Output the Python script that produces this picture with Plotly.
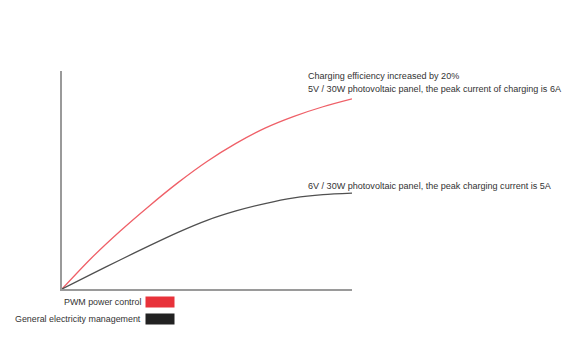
import plotly.graph_objects as go

# Data (arbitrary units)
x_vals = [0, 1, 2, 3, 4, 5, 6, 7, 8, 9, 10]
pwm_values = [0, 1.40, 2.65, 3.80, 4.88, 5.85, 6.68, 7.38, 7.92, 8.36, 8.72]
general_values = [0, 0.67, 1.33, 1.98, 2.60, 3.15, 3.58, 3.92, 4.18, 4.33, 4.40]

series_names = ["PWM power control", "General electricity management"]
series_colors = ["#e8323a", "#222222"]
line_colors = ["#ef6068", "#505050"]

note_top_1 = "Charging efficiency increased by 20%"
note_top_2 = "5V / 30W photovoltaic panel, the peak current of charging is 6A"
note_mid = "6V / 30W photovoltaic panel, the peak charging current is 5A"

FONT = "Liberation Sans, Arial, sans-serif"
TXT = "#333333"

fig = go.Figure()
for vals, name, col in zip([pwm_values, general_values], series_names, line_colors):
    fig.add_trace(go.Scatter(
        x=x_vals, y=vals, mode="lines", name=name,
        line=dict(color=col, width=1.3, shape="spline", smoothing=0.8),
        showlegend=False, hoverinfo="skip",
    ))

OFF = 8  # page body margin
W, H = 570 - OFF, 360 - OFF
L, R, T, B = 62 - OFF, 352 - OFF, 71 - OFF, 289 - OFF

def px(xp):
    return (xp - OFF - L) / (R - L)

def py(yp):
    return (B - (yp - OFF)) / (B - T)

ann = []
for txt, yc in [(note_top_1, 76), (note_top_2, 89), (note_mid, 186)]:
    ann.append(dict(x=px(306), y=py(yc), xref="paper", yref="paper", text=txt,
                    showarrow=False, xanchor="left", yanchor="middle",
                    font=dict(family=FONT, size=9.05, color=TXT)))

# legend (text then swatch)
legend_y = [302, 319]
for name, col, yc in zip(series_names, series_colors, legend_y):
    ann.append(dict(x=px(143), y=py(yc), xref="paper", yref="paper", text=name,
                    showarrow=False, xanchor="right", yanchor="middle",
                    font=dict(family=FONT, size=8.9, color=TXT)))
    ann.append(dict(x=px(145), y=py(yc), xref="paper", yref="paper", text="",
                    showarrow=False, xanchor="left", yanchor="middle",
                    width=28, height=10, bgcolor=col, borderpad=0))

fig.update_layout(
    width=W, height=H,
    margin=dict(l=L, r=W - R, t=T, b=H - B),
    paper_bgcolor="white", plot_bgcolor="white",
    annotations=ann,
    xaxis=dict(range=[0, 10], showgrid=False, zeroline=False, showticklabels=False,
               ticks="", showline=True, linecolor="#9a9a9a", linewidth=2),
    yaxis=dict(range=[0, 10], showgrid=False, zeroline=False, showticklabels=False,
               ticks="", showline=True, linecolor="#9a9a9a", linewidth=2),
)

fig.write_html("out.html")
